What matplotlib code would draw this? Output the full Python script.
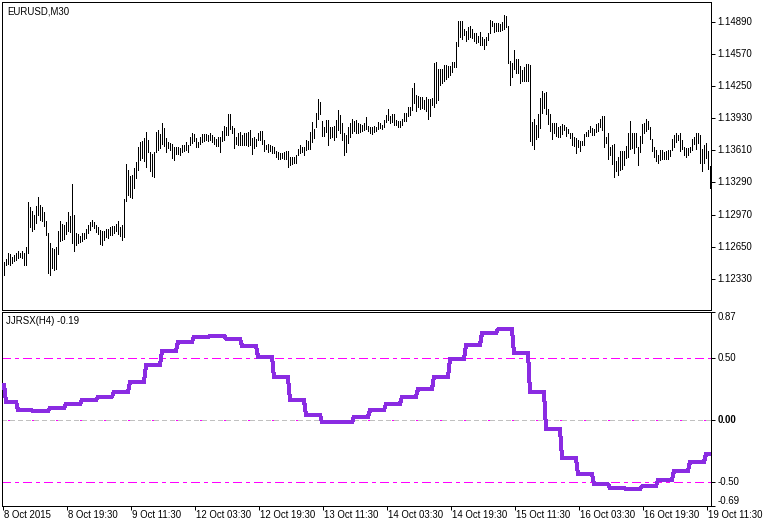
import numpy as np
import matplotlib
matplotlib.use("Agg")
import matplotlib.pyplot as plt
from matplotlib.transforms import blended_transform_factory, ScaledTranslation

plt.rcParams['lines.scale_dashes'] = False
FONT = ['Liberation Sans', 'DejaVu Sans']
FS = 6.9

symbol_title = "EURUSD,M30"
indicator_title = "JJRSX(H4) -0.19"

# ---- EURUSD M30 bars (high / low) ----
bar_high = [
    1.1250, 1.1253, 1.1259, 1.1258, 1.1255, 1.1257, 1.1259, 1.1261, 1.1259, 1.1261,
    1.1259, 1.1265, 1.1310, 1.1305, 1.1301, 1.1297, 1.1306, 1.1315, 1.1307, 1.1305,
    1.1300, 1.1291, 1.1279, 1.1269, 1.1264, 1.1263, 1.1265, 1.1281, 1.1291, 1.1288,
    1.1287, 1.1290, 1.1300, 1.1296, 1.1327, 1.1297, 1.1279, 1.1278, 1.1276, 1.1279,
    1.1279, 1.1283, 1.1287, 1.1290, 1.1292, 1.1290, 1.1287, 1.1285, 1.1282, 1.1281,
    1.1281, 1.1283, 1.1283, 1.1285, 1.1286, 1.1286, 1.1288, 1.1291, 1.1285, 1.1287,
    1.1313, 1.1347, 1.1341, 1.1335, 1.1336, 1.1343, 1.1349, 1.1364, 1.1369, 1.1370,
    1.1373, 1.1379, 1.1371, 1.1359, 1.1357, 1.1359, 1.1379, 1.1381, 1.1377, 1.1388,
    1.1383, 1.1373, 1.1369, 1.1368, 1.1367, 1.1364, 1.1364, 1.1364,
    1.1363, 1.1366,
    1.1366, 1.1369, 1.1366, 1.1374, 1.1378, 1.1377, 1.1373, 1.1369, 1.1374, 1.1377,
    1.1377, 1.1377, 1.1376, 1.1378, 1.1376, 1.1374, 1.1372, 1.1374, 1.1374, 1.1380,
    1.1385, 1.1384, 1.1397, 1.1397, 1.1385, 1.1383, 1.1374, 1.1378, 1.1379, 1.1376,
    1.1378, 1.1378, 1.1379, 1.1381, 1.1373, 1.1374, 1.1372, 1.1378, 1.1380, 1.1380,
    1.1371, 1.1366, 1.1367, 1.1366, 1.1365, 1.1364, 1.1360, 1.1359, 1.1358, 1.1358,
    1.1359, 1.1360, 1.1360, 1.1354, 1.1354, 1.1354, 1.1356, 1.1362, 1.1366, 1.1364,
    1.1364, 1.1371, 1.1370, 1.1379, 1.1389, 1.1382, 1.1398, 1.1412, 1.1409, 1.1390,
    1.1384, 1.1391, 1.1391, 1.1384, 1.1384, 1.1385, 1.1391, 1.1401, 1.1396, 1.1388,
    1.1378, 1.1376, 1.1384, 1.1388, 1.1392, 1.1390,
    1.1391, 1.1388, 1.1387, 1.1386,
    1.1388, 1.1394, 1.1385, 1.1384, 1.1384, 1.1385, 1.1384, 1.1389, 1.1388, 1.1386,
    1.1391, 1.1396, 1.1402, 1.1395, 1.1397, 1.1397, 1.1391, 1.1390, 1.1390, 1.1392,
    1.1398, 1.1398, 1.1404, 1.1404, 1.1423, 1.1428, 1.1416, 1.1415, 1.1414, 1.1414,
    1.1411, 1.1414, 1.1412, 1.1412, 1.1413, 1.1448, 1.1449, 1.1442, 1.1442, 1.1442,
    1.1446, 1.1446, 1.1445, 1.1445, 1.1449, 1.1449, 1.1469, 1.1490, 1.1490, 1.1490,
    1.1482, 1.1480, 1.1484, 1.1485, 1.1482, 1.1478, 1.1478, 1.1475, 1.1479, 1.1474,
    1.1472, 1.1474, 1.1478, 1.1491, 1.1490, 1.1488, 1.1488, 1.1488, 1.1487, 1.1489,
    1.1496, 1.1495, 1.1485, 1.1450, 1.1448, 1.1461, 1.1452, 1.1452, 1.1445, 1.1441,
    1.1444, 1.1447,
    1.1447, 1.1446, 1.1389, 1.1392, 1.1386, 1.1397, 1.1413, 1.1420, 1.1418, 1.1419,
    1.1402, 1.1397, 1.1388, 1.1388, 1.1388, 1.1384, 1.1385, 1.1387, 1.1386, 1.1384,
    1.1382, 1.1378, 1.1378, 1.1374, 1.1373, 1.1371, 1.1370, 1.1370, 1.1377, 1.1379,
    1.1381, 1.1385, 1.1383, 1.1382, 1.1387, 1.1388, 1.1392, 1.1395, 1.1395, 1.1374,
    1.1378, 1.1364, 1.1366, 1.1367, 1.1350, 1.1354, 1.1360, 1.1360, 1.1360, 1.1365,
    1.1378, 1.1390, 1.1378, 1.1378, 1.1378, 1.1364, 1.1375, 1.1387, 1.1388, 1.1392,
    1.1390, 1.1384, 1.1372, 1.1364, 1.1361, 1.1356, 1.1361, 1.1361, 1.1359, 1.1360,
    1.1361, 1.1361, 1.1372, 1.1376, 1.1378, 1.1376, 1.1378, 1.1371, 1.1364, 1.1363,
    1.1363, 1.1364, 1.1372, 1.1374, 1.1378, 1.1378, 1.1376, 1.1362, 1.1366, 1.1368,
    1.1360, 1.1345,
]

bar_low = [
    1.1237, 1.1247, 1.1248, 1.1247, 1.1249, 1.1251, 1.1252, 1.1254, 1.1255, 1.1254,
    1.1247, 1.1247, 1.1259, 1.1285, 1.1281, 1.1283, 1.1289, 1.1297, 1.1292, 1.1291,
    1.1286, 1.1277, 1.1239, 1.1237, 1.1244, 1.1242, 1.1243, 1.1258, 1.1271, 1.1272,
    1.1273, 1.1278, 1.1281, 1.1280, 1.1269, 1.1261, 1.1267, 1.1269, 1.1270, 1.1271,
    1.1273, 1.1274, 1.1279, 1.1282, 1.1286, 1.1284, 1.1280, 1.1278, 1.1268, 1.1267,
    1.1272, 1.1275, 1.1274, 1.1277, 1.1277, 1.1279, 1.1281, 1.1278, 1.1276, 1.1272,
    1.1275, 1.1311, 1.1317, 1.1315, 1.1314, 1.1323, 1.1333, 1.1341, 1.1351, 1.1353,
    1.1350, 1.1344, 1.1359, 1.1340, 1.1335, 1.1334, 1.1359, 1.1361, 1.1363, 1.1367,
    1.1365, 1.1359, 1.1363, 1.1361, 1.1353, 1.1351, 1.1357, 1.1357,
    1.1356, 1.1359,
    1.1360, 1.1361, 1.1359, 1.1366, 1.1368, 1.1370, 1.1364, 1.1364, 1.1367, 1.1369,
    1.1370, 1.1371, 1.1370, 1.1371, 1.1369, 1.1367, 1.1365, 1.1365, 1.1359, 1.1370,
    1.1371, 1.1376, 1.1376, 1.1382, 1.1378, 1.1363, 1.1367, 1.1366, 1.1366, 1.1366,
    1.1366, 1.1366, 1.1365, 1.1366, 1.1357, 1.1363, 1.1365, 1.1371, 1.1371, 1.1367,
    1.1360, 1.1362, 1.1359, 1.1360, 1.1358, 1.1358, 1.1354, 1.1352, 1.1352, 1.1353,
    1.1352, 1.1352, 1.1344, 1.1346, 1.1347, 1.1348, 1.1348, 1.1356, 1.1358, 1.1359,
    1.1356, 1.1361, 1.1362, 1.1362, 1.1369, 1.1373, 1.1384, 1.1392, 1.1397, 1.1375,
    1.1375, 1.1379, 1.1366, 1.1373, 1.1374, 1.1371, 1.1374, 1.1381, 1.1378, 1.1371,
    1.1356, 1.1359, 1.1368, 1.1374, 1.1378, 1.1380,
    1.1378, 1.1378, 1.1379, 1.1380,
    1.1381, 1.1382, 1.1380, 1.1378, 1.1377, 1.1379, 1.1380, 1.1382, 1.1383, 1.1382,
    1.1384, 1.1389, 1.1391, 1.1388, 1.1389, 1.1386, 1.1386, 1.1384, 1.1384, 1.1386,
    1.1390, 1.1390, 1.1395, 1.1396, 1.1401, 1.1408, 1.1400, 1.1404, 1.1402, 1.1403,
    1.1402, 1.1400, 1.1392, 1.1395, 1.1406, 1.1404, 1.1408, 1.1411, 1.1426, 1.1428,
    1.1430, 1.1432, 1.1434, 1.1436, 1.1439, 1.1444, 1.1444, 1.1465, 1.1474, 1.1472,
    1.1476, 1.1470, 1.1472, 1.1474, 1.1473, 1.1470, 1.1468, 1.1469, 1.1466, 1.1466,
    1.1462, 1.1466, 1.1471, 1.1478, 1.1485, 1.1479, 1.1480, 1.1480, 1.1480, 1.1481,
    1.1482, 1.1484, 1.1448, 1.1426, 1.1434, 1.1442, 1.1438, 1.1438, 1.1428, 1.1430,
    1.1430, 1.1430,
    1.1430, 1.1370, 1.1366, 1.1362, 1.1372, 1.1374, 1.1383, 1.1398, 1.1403, 1.1397,
    1.1387, 1.1380, 1.1372, 1.1378, 1.1375, 1.1374, 1.1374, 1.1377, 1.1381, 1.1375,
    1.1378, 1.1373, 1.1366, 1.1365, 1.1358, 1.1364, 1.1360, 1.1366, 1.1366, 1.1375,
    1.1375, 1.1379, 1.1376, 1.1376, 1.1379, 1.1380, 1.1384, 1.1381, 1.1364, 1.1368,
    1.1352, 1.1356, 1.1347, 1.1334, 1.1340, 1.1336, 1.1341, 1.1342, 1.1346, 1.1353,
    1.1354, 1.1362, 1.1363, 1.1358, 1.1364, 1.1346, 1.1359, 1.1368, 1.1378, 1.1380,
    1.1382, 1.1372, 1.1360, 1.1354, 1.1350, 1.1348, 1.1351, 1.1352, 1.1352, 1.1352,
    1.1352, 1.1355, 1.1361, 1.1364, 1.1369, 1.1371, 1.1360, 1.1362, 1.1356, 1.1354,
    1.1356, 1.1359, 1.1361, 1.1367, 1.1362, 1.1368, 1.1348, 1.1340, 1.1348, 1.1353,
    1.1342, 1.1323,
]

# ---- JJRSX(H4) values, one per H4 candle ----
rsx_h4 = [0.285, 0.15,
          0.08, 0.07, 0.10, 0.13, 0.16, 0.19, 0.226, 0.31, 0.44, 0.56,
          0.63, 0.67, 0.68, 0.655, 0.60, 0.51, 0.345, 0.16, 0.043, -0.015,
          -0.017, 0.027, 0.08, 0.13, 0.19, 0.25, 0.35, 0.49, 0.605, 0.70,
          0.73, 0.54, 0.226, -0.07, -0.306, -0.433, -0.516, -0.546, -0.554, -0.532,
          -0.479, -0.406, -0.334, -0.274]
rsx_partial_starts = [0, 1]   # first (partial) H4 candles, bar index
FIRST_FULL_H4 = 7             # bar index of first full H4 candle
BARS_PER_H4 = 8

price_ticks = [1.14890, 1.14570, 1.14250, 1.13930, 1.13610, 1.13290, 1.12970, 1.12650, 1.12330]
price_tick_labels = ["1.14890", "1.14570", "1.14250", "1.13930", "1.13610",
                     "1.13290", "1.12970", "1.12650", "1.12330"]
price_range = (1.120186, 1.150894)

rsx_ticks = [0.87, 0.50, 0.00, -0.50, -0.69]
rsx_tick_labels = ["0.87", "0.50", "0.00", "-0.50", "-0.69"]
rsx_label_va = ["top", "center", "center", "center", "bottom"]
rsx_levels = [0.5, 0.0, -0.5]

time_tick_bars = [0, 32, 64, 96, 128, 160, 192, 224, 256, 288, 320, 352]
time_tick_labels = ["8 Oct 2015", "8 Oct 19:30", "9 Oct 11:30", "12 Oct 03:30",
                    "12 Oct 19:30", "13 Oct 11:30", "14 Oct 03:30", "14 Oct 19:30",
                    "15 Oct 11:30", "16 Oct 03:30", "16 Oct 19:30", "19 Oct 11:30"]

# ---------------------------------------------------------------
W, H = 763, 525
PT = 0.72  # points per pixel at 100 dpi
fig = plt.figure(figsize=(W / 100, H / 100), dpi=100)
fig.patch.set_facecolor('white')

L, R = 2.0, 711.3
ax1 = fig.add_axes([L / W, 1 - 310 / H, (R - L) / W, 308 / H])
ax2 = fig.add_axes([L / W, 1 - 506 / H, (R - L) / W, 194 / H])

n = len(bar_high)
idx = np.arange(n)
x0 = -1.0
x1 = x0 + (R - L) / 2.0
for ax in (ax1, ax2):
    ax.set_xlim(x0, x1)
    ax.set_facecolor('white')
    for s in ax.spines.values():
        s.set_color('black')
        s.set_linewidth(1.0 * PT)

# price bars
ax1.vlines(idx, bar_low, bar_high, colors='black', linewidth=1.0 * PT, antialiased=False)
ax1.set_ylim(*price_range)
ax1.set_xticks([])
ax1.yaxis.tick_right()
ax1.set_yticks(price_ticks)
ax1.tick_params(axis='y', which='both', direction='out', length=4 * PT, width=1 * PT,
                color='black', labelright=False, labelleft=False)

tr1 = blended_transform_factory(ax1.transAxes, ax1.transData) + \
    ScaledTranslation(6 / 100, 0, fig.dpi_scale_trans)
for v, lab in zip(price_ticks, price_tick_labels):
    ax1.text(1.0, v, lab, transform=tr1, ha='left', va='center', fontsize=FS,
             family=FONT, color='black', clip_on=False)

ax1.text(5 / (R - L), 1 - 9 / 308, symbol_title, transform=ax1.transAxes, ha='left',
         va='center', fontsize=FS, family=FONT, color='black')

# indicator
starts = np.array(rsx_partial_starts + list(range(FIRST_FULL_H4, n, BARS_PER_H4)))
seg = np.searchsorted(starts, idx, side='right') - 1
rsx_bar = np.asarray(rsx_h4)[seg]

for lv in rsx_levels:
    if lv == 0.0:
        # zero line: grey dashes with the magenta level dots showing in the gaps
        ax2.axhline(lv, color='#C0C0C0', linewidth=1.0 * PT, antialiased=False,
                    linestyle=(0, (5 * PT, 3 * PT)), zorder=1.5)
        ax2.axhline(lv, color='#FF00FF', linewidth=1.0 * PT, antialiased=False,
                    linestyle=(-5.5 * PT, (2 * PT, 22 * PT)), zorder=1.6)
    else:
        ax2.axhline(lv, color='#FF00FF', linewidth=1.0 * PT, antialiased=False,
                    linestyle=(0, (9 * PT, 5 * PT, 3 * PT, 5 * PT)), zorder=1)
ax2.plot(idx, rsx_bar, color='#8A2BE2', linewidth=3 * PT, antialiased=False,
         solid_joinstyle='miter', zorder=3)

ax2.set_ylim(-0.69, 0.87)
ax2.yaxis.tick_right()
ax2.set_yticks(rsx_ticks)
ax2.tick_params(axis='y', which='both', direction='out', length=4 * PT, width=1 * PT,
                color='black', labelright=False, labelleft=False)
tr2 = blended_transform_factory(ax2.transAxes, ax2.transData) + \
    ScaledTranslation(6 / 100, 0, fig.dpi_scale_trans)
for v, lab, va in zip(rsx_ticks, rsx_tick_labels, rsx_label_va):
    ax2.text(1.0, v, lab, transform=tr2, ha='left', va=va, fontsize=FS,
             family=FONT, color='black', clip_on=False,
             fontweight='bold' if v == 0.0 else 'normal')

tick_pos = np.asarray(time_tick_bars) - 0.65
ax2.set_xticks(tick_pos)
ax2.tick_params(axis='x', which='both', direction='out', length=4 * PT, width=1 * PT,
                color='black', labelbottom=False)
trx = blended_transform_factory(ax2.transData, ax2.transAxes) + \
    ScaledTranslation(1 / 100, -8.5 / 100, fig.dpi_scale_trans)
for p, lab in zip(tick_pos, time_tick_labels):
    ax2.text(p, 0.0, lab, transform=trx, ha='left', va='center', fontsize=FS,
             family=FONT, color='black', clip_on=False)

ax2.text(4 / (R - L), 1 - 9 / 194, indicator_title, transform=ax2.transAxes, ha='left',
         va='center', fontsize=FS, family=FONT, color='black')

fig.savefig('out.png', dpi=100, facecolor='white')
